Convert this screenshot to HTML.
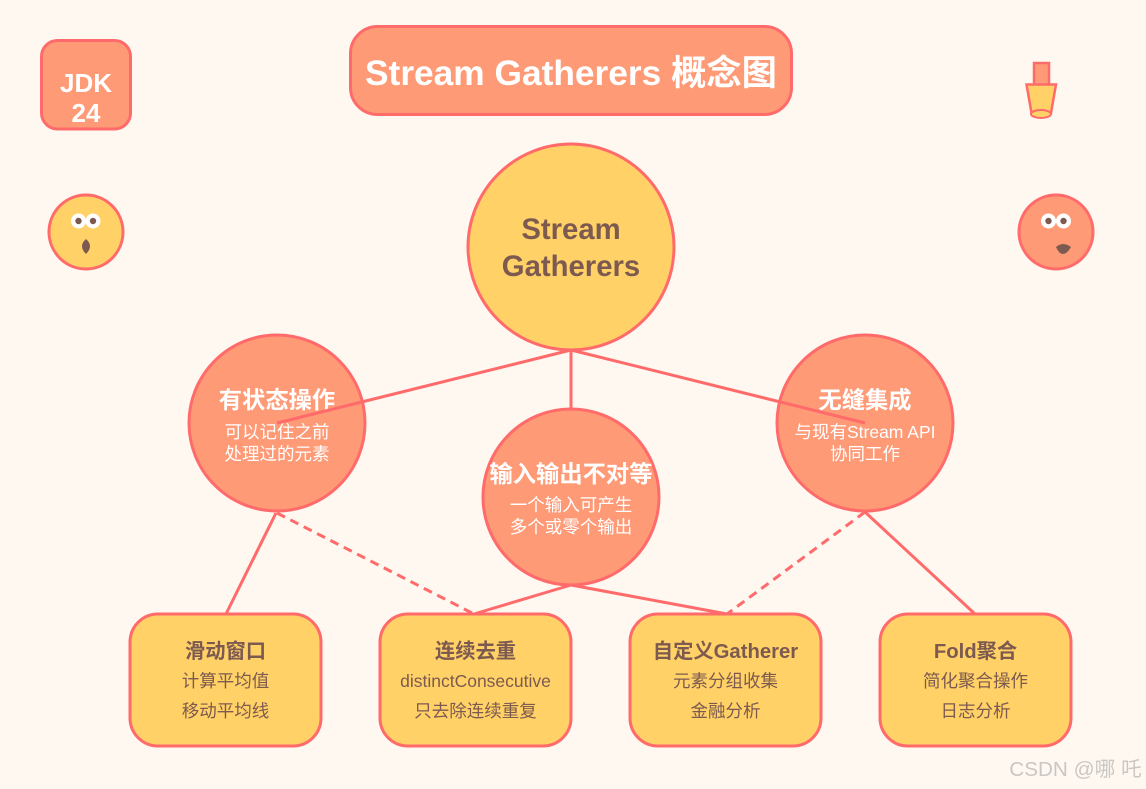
<!DOCTYPE html>
<html><head><meta charset="utf-8">
<style>
html,body{margin:0;padding:0;background:#FFF8F0;width:1146px;height:789px;overflow:hidden}
svg{display:block}
text{font-family:"Liberation Sans","Noto Sans CJK SC",sans-serif;text-anchor:middle}
.b{font-weight:bold}
.w{fill:#fff}
.d{fill:#7D5A50}
</style></head><body>
<svg width="1146" height="789" viewBox="0 0 1146 789" xmlns="http://www.w3.org/2000/svg">
<rect width="1146" height="789" fill="#FFF8F0"/>
<g stroke="#FF6B6B" stroke-width="3" fill="#FF9A76">
<rect x="350.500" y="26.500" width="441" height="88" rx="27"/>
<rect x="41.500" y="40.500" width="89" height="88.500" rx="16"/>
<circle cx="86" cy="232" r="37" fill="#FFD166"/>
<circle cx="1056" cy="232" r="37"/>
<rect x="1034" y="63" width="15" height="22" stroke-width="2.500"/>
<path d="M1026.500 84.500H1056L1051 113H1031.500Z" fill="#FFD166" stroke-width="2.500"/>
<ellipse cx="1041" cy="114" rx="10" ry="4" fill="#FFD166" stroke-width="2"/>
</g>
<text x="571" y="85" class="b w" font-size="35.300">Stream Gatherers 概念图</text>
<text x="86" y="92" class="b w" font-size="26">JDK</text>
<text x="86" y="122" class="b w" font-size="26">24</text>
<g fill="#fff"><circle cx="78.500" cy="221" r="7.500"/><circle cx="93" cy="221" r="7.500"/><circle cx="1048.500" cy="221" r="7.500"/><circle cx="1063.500" cy="221" r="7.500"/></g>
<g fill="#7D5A50"><circle cx="78.500" cy="221" r="3.200"/><circle cx="93" cy="221" r="3.200"/><circle cx="1048.500" cy="221" r="3.200"/><circle cx="1063.500" cy="221" r="3.200"/>
<path d="M86 239Q94 246 86 254Q78 246 86 239Z"/>
<path d="M1056 247Q1063 241 1071 247Q1067 254 1063 254Q1059 254 1056 247Z"/></g>
<g stroke="#FF6B6B" stroke-width="3" fill="none">
<path d="M571 350V410M276 513L226 614M571 585L474 614M571 585L727 614M865 512L975 614"/>
<path d="M277 513L474 614M865 512L727 614" stroke-dasharray="9 6"/>
</g>
<g stroke="#FF6B6B" stroke-width="3" fill="#FF9A76">
<circle cx="277" cy="423" r="88"/>
<circle cx="571" cy="497" r="88"/>
<circle cx="865" cy="423" r="88"/>
</g>
<circle cx="571" cy="247" r="103" fill="#FFD166" stroke="#FF6B6B" stroke-width="3"/>
<text x="571" y="239" class="b d" font-size="29.300">Stream</text>
<text x="571" y="276" class="b d" font-size="29.300">Gatherers</text>
<text x="277" y="408" class="b w" font-size="23.300">有状态操作</text>
<text x="277" y="438" class="w" font-size="17.500">可以记住之前</text>
<text x="277" y="460" class="w" font-size="17.500">处理过的元素</text>
<text x="571" y="482" class="b w" font-size="23.300">输入输出不对等</text>
<text x="571" y="511" class="w" font-size="17.500">一个输入可产生</text>
<text x="571" y="533" class="w" font-size="17.500">多个或零个输出</text>
<text x="865" y="408" class="b w" font-size="23.300">无缝集成</text>
<text x="865" y="438" class="w" font-size="17.500">与现有Stream API</text>
<text x="865" y="460" class="w" font-size="17.500">协同工作</text>
<path d="M571 350L277 423M571 350L865 423" stroke="#FF6B6B" stroke-width="3" fill="none"/>
<g fill="#FFD166" stroke="#FF6B6B" stroke-width="3">
<rect x="130" y="614" width="191" height="132" rx="28"/>
<rect x="380" y="614" width="191" height="132" rx="28"/>
<rect x="630" y="614" width="191" height="132" rx="28"/>
<rect x="880" y="614" width="191" height="132" rx="28"/>
</g>
<text x="225.500" y="658" class="b d" font-size="20.300">滑动窗口</text>
<text x="225.500" y="687" class="d" font-size="17.500">计算平均值</text>
<text x="225.500" y="717" class="d" font-size="17.500">移动平均线</text>
<text x="475.500" y="658" class="b d" font-size="20.300">连续去重</text>
<text x="475.500" y="687" class="d" font-size="17.500">distinctConsecutive</text>
<text x="475.500" y="717" class="d" font-size="17.500">只去除连续重复</text>
<text x="725.500" y="658" class="b d" font-size="20.300">自定义Gatherer</text>
<text x="725.500" y="687" class="d" font-size="17.500">元素分组收集</text>
<text x="725.500" y="717" class="d" font-size="17.500">金融分析</text>
<text x="975.500" y="658" class="b d" font-size="20.300">Fold聚合</text>
<text x="975.500" y="687" class="d" font-size="17.500">简化聚合操作</text>
<text x="975.500" y="717" class="d" font-size="17.500">日志分析</text>
<text x="1075.500" y="776" font-size="20.700" fill="#c9c7c4">CSDN @哪 吒</text>
</svg>
</body></html>
